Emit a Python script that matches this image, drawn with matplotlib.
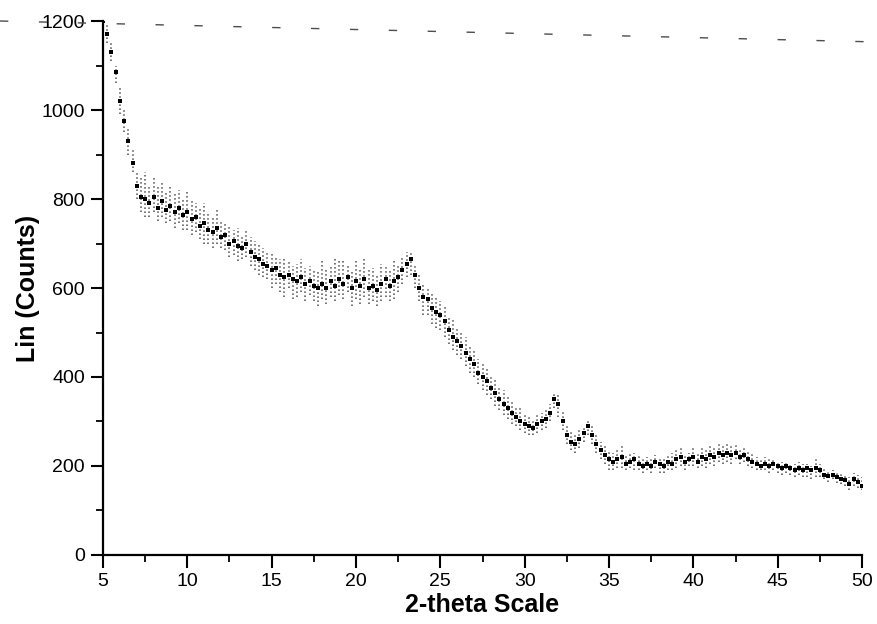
import numpy as np
import matplotlib
matplotlib.use("Agg")
import matplotlib.pyplot as plt
from matplotlib.lines import Line2D

plt.rcParams['font.family'] = ['Liberation Sans', 'DejaVu Sans']

# scan: 5 to 50 deg, read every 0.25 deg off the picture
two_theta = np.linspace(5, 50, 181)

# centre of the noisy trace (4 values per degree)
counts = [
    1200, 1170, 1130, 1085,  # 5
    1020, 975, 930, 880,     # 6
    830, 805, 800, 790,      # 7
    805, 780, 795, 775,      # 8
    785, 770, 780, 765,      # 9
    770, 755, 760, 740,      # 10
    745, 730, 725, 735,      # 11
    715, 720, 700, 705,      # 12
    695, 690, 700, 680,      # 13
    670, 665, 655, 650,      # 14
    640, 645, 630, 625,      # 15
    630, 620, 615, 625,      # 16
    610, 615, 605, 600,      # 17
    610, 600, 615, 605,      # 18
    620, 610, 625, 600,      # 19
    615, 605, 620, 600,      # 20
    605, 595, 610, 620,      # 21
    605, 615, 625, 640,      # 22
    655, 665, 630, 600,      # 23
    580, 575, 555, 545,      # 24
    540, 525, 505, 490,      # 25
    480, 470, 455, 440,      # 26
    430, 410, 400, 390,      # 27
    375, 365, 350, 340,      # 28
    330, 320, 310, 300,      # 29
    295, 290, 285, 295,      # 30
    300, 305, 320, 350,      # 31
    340, 300, 270, 255,      # 32
    250, 260, 275, 290,      # 33
    270, 250, 235, 225,      # 34
    215, 210, 215, 220,      # 35
    205, 210, 215, 205,      # 36
    200, 205, 200, 210,      # 37
    205, 200, 210, 205,      # 38
    215, 220, 210, 215,      # 39
    220, 210, 220, 215,      # 40
    225, 220, 230, 225,      # 41
    230, 225, 230, 220,      # 42
    225, 215, 210, 205,      # 43
    200, 205, 200, 205,      # 44
    200, 195, 200, 195,      # 45
    190, 195, 190, 195,      # 46
    190, 195, 190, 180,      # 47
    178, 180, 175, 170,      # 48
    168, 160, 170, 165,      # 49
    155,                     # 50
]

# lower edge of the scatter
low = [
    1190, 1150, 1110, 1060,
    990, 950, 900, 860,
    800, 770, 760, 760,
    770, 750, 760, 745,
    750, 735, 745, 730,
    730, 720, 725, 710,
    700, 700, 690, 700,
    690, 685, 670, 675,
    660, 665, 670, 650,
    640, 630, 625, 620,
    600, 610, 590, 580,
    600, 575, 580, 590,
    570, 585, 570, 560,
    575, 565, 580, 570,
    585, 575, 590, 560,
    575, 565, 580, 565,
    570, 560, 570, 580,
    570, 575, 590, 610,
    625, 630, 600, 570,
    540, 540, 520, 510,
    505, 490, 475, 460,
    450, 440, 425, 410,
    400, 385, 370, 360,
    350, 335, 325, 315,
    305, 295, 290, 280,
    275, 270, 270, 275,
    280, 285, 300, 330,
    310, 280, 250, 235,
    230, 240, 255, 270,
    250, 230, 215, 205,
    190, 190, 195, 195,
    190, 195, 190, 190,
    185, 190, 185, 195,
    185, 185, 190, 190,
    195, 200, 190, 200,
    200, 195, 200, 195,
    205, 200, 210, 205,
    210, 205, 215, 205,
    210, 200, 195, 190,
    190, 190, 185, 190,
    185, 180, 185, 180,
    175, 180, 175, 175,
    170, 175, 175, 170,
    165, 170, 162, 160,
    155, 145, 155, 150,
    145,
]

# upper edge of the scatter
high = [
    1200, 1195, 1150, 1100,
    1050, 1000, 960, 910,
    860, 850, 860, 830,
    850, 830, 840, 815,
    830, 815, 820, 800,
    815, 800, 790, 780,
    790, 770, 760, 775,
    750, 745, 740, 730,
    735, 720, 730, 715,
    705, 700, 690, 680,
    680, 670, 665, 670,
    660, 650, 655, 665,
    645, 650, 640, 640,
    665, 640, 650, 670,
    660, 665, 650, 640,
    660, 640, 665, 640,
    645, 630, 655, 650,
    640, 660, 655, 670,
    680, 680, 655, 630,
    610, 600, 590, 580,
    570, 560, 535, 530,
    510, 500, 490, 470,
    460, 440, 430, 420,
    405, 395, 380, 370,
    360, 345, 335, 330,
    320, 315, 305, 315,
    320, 325, 340, 365,
    360, 325, 295, 280,
    275, 285, 290, 305,
    290, 270, 255, 245,
    235, 230, 235, 250,
    225, 230, 230, 225,
    215, 220, 215, 225,
    220, 215, 225, 230,
    235, 240, 225, 230,
    240, 230, 245, 240,
    245, 245, 250, 245,
    250, 245, 250, 240,
    240, 235, 230, 220,
    215, 220, 215, 215,
    210, 210, 210, 205,
    205, 210, 205, 205,
    200, 215, 205, 195,
    190, 190, 185, 185,
    180, 175, 185, 180,
    175,
]

x_ticks = [5, 10, 15, 20, 25, 30, 35, 40, 45, 50]
y_ticks = [0, 200, 400, 600, 800, 1000, 1200]

fig = plt.figure(figsize=(8.78, 6.24), dpi=100)
ax = fig.add_axes([0.1173, 0.1106, 0.8645, 0.8557])

# scatter of the counts as dotted vertical strokes, dark blobs at the centre
ax.vlines(two_theta, low, high, colors='0.3', linewidth=1.1, linestyles=':')
ax.plot(two_theta, counts, color='black', linestyle='none',
        marker='s', markersize=2.6, markeredgewidth=0)

ax.set_xlim(5, 50)
ax.set_ylim(0, 1200)
ax.set_xticks(x_ticks)
ax.set_yticks(y_ticks)
ax.set_xticks(np.arange(7.5, 50, 5), minor=True)
ax.set_yticks(np.arange(100, 1200, 200), minor=True)

for side in ['top', 'right']:
    ax.spines[side].set_visible(False)
for side in ['left', 'bottom']:
    ax.spines[side].set_linewidth(1.6)

ax.tick_params(which='major', direction='out', length=9, width=1.5,
               labelsize=14, pad=4)
ax.tick_params(which='minor', direction='out', length=5, width=1.3)

ax.set_xlabel("2-theta Scale", fontsize=18, fontweight='bold', labelpad=2)
ax.set_ylabel("Lin (Counts)", fontsize=18, fontweight='bold', labelpad=1)

# scan artefact: faint dashed line across the top of the page
fig.add_artist(Line2D([0, 1], [603 / 624, 582 / 624], transform=fig.transFigure,
                      color='0.3', linewidth=1.0, linestyle=(0, (6, 22))))

fig.savefig("out.png", dpi=100)
